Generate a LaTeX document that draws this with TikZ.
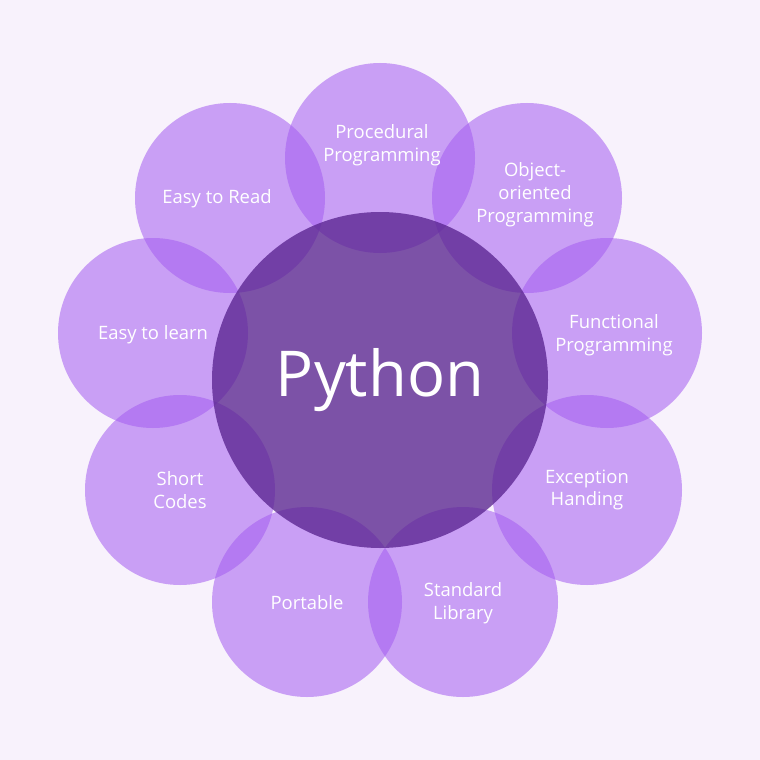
\documentclass[tikz,border=0pt]{standalone}
\usepackage{fontspec}
\setmainfont{Open Sans}
\definecolor{bgpaper}{HTML}{F8F2FC}
\definecolor{petal}{HTML}{A45CF0}
\definecolor{core}{HTML}{5A2590}
\tikzset{
  petal/.style={circle, fill=petal, fill opacity=0.55, text opacity=1,
    minimum size=190*0.02cm, inner sep=0pt, text=white, align=center,
    font=\fontsize{10.5}{13}\selectfont},
  core/.style={circle, fill=core, fill opacity=0.78, text opacity=1,
    minimum size=336*0.02cm, inner sep=0pt, text=white,
    font=\fontsize{36}{40}\selectfont}
}
\begin{document}
\begin{tikzpicture}[x=0.02cm,y=-0.02cm]
  \fill[bgpaper] (0,0) rectangle (760,760);
  \useasboundingbox (0,0) rectangle (760,760);
  \node[petal] (proc) at (380,158) {};
  \node[petal] (oop) at (527,198) {};
  \node[petal] (func) at (607,333) {};
  \node[petal] (exc) at (587,490) {};
  \node[petal] (stdlib) at (463,602) {};
  \node[petal] (port) at (307,602) {};
  \node[petal] (short) at (180,490) {};
  \node[petal] (learn) at (153,333) {};
  \node[petal] (read) at (230,198) {};
  \node[core] (python) at (380,380) {Python};
  % labels
  \begin{scope}[every node/.style={text=white, align=center, font=\fontsize{10.5}{13}\selectfont}]
    \node at (382,145) {Procedural\\Programming};
    \node at (535,195) {Object-\\oriented\\Programming};
    \node at (614,335) {Functional\\Programming};
    \node at (587,490) {Exception\\Handing};
    \node at (463,603) {Standard\\Library};
    \node at (307,603) {Portable};
    \node at (180,490) {Short\\Codes};
    \node at (153,335) {Easy to learn};
    \node at (217,199) {Easy to Read};
  \end{scope}
\end{tikzpicture}
\end{document}
